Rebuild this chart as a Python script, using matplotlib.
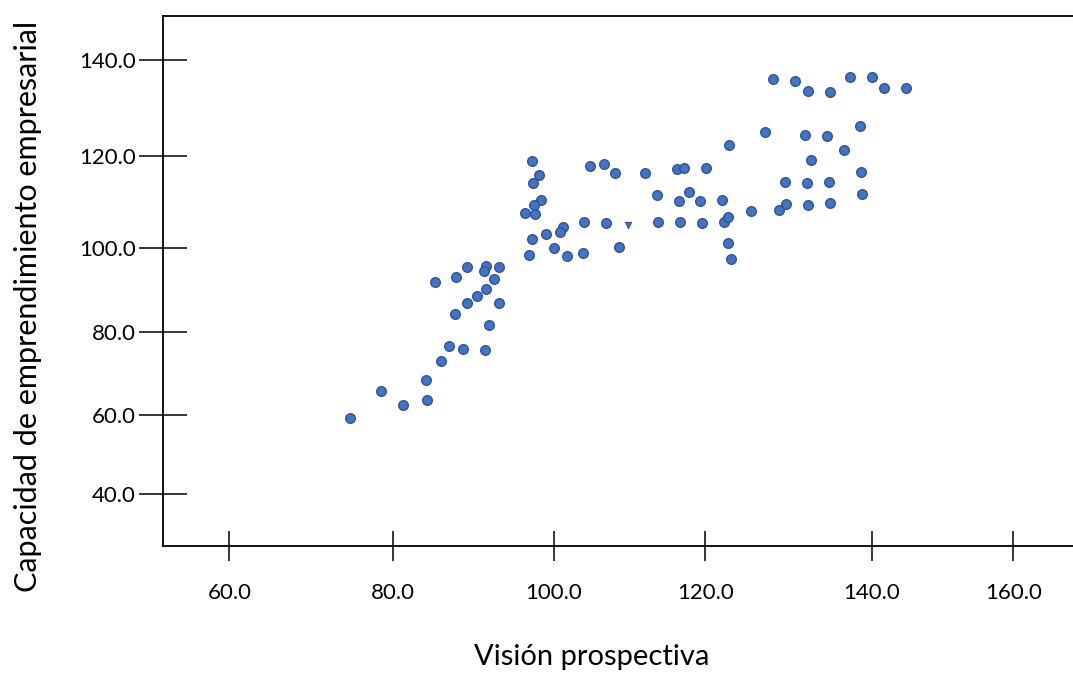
import numpy as np
import matplotlib
matplotlib.use('Agg')
import matplotlib.pyplot as plt

plt.rcParams['font.family'] = ['Lato', 'DejaVu Sans']

# Visión prospectiva (x) vs Capacidad de emprendimiento empresarial (y)
vision = [74.7, 78.5, 81.2, 84.2, 84.1, 86.0, 87.0, 88.7, 91.4, 91.9,
          87.7, 89.2, 93.2, 90.4, 91.6, 92.5, 85.2, 87.8, 89.2, 91.6,
          91.3, 93.2, 96.9, 97.3, 97.3, 98.1, 97.4, 98.4, 97.5, 96.4,
          97.6, 104.0, 106.9, 101.2, 100.8, 99.0, 100.0, 101.7, 103.8, 108.6,
          104.8, 106.6, 108.1, 112.0, 113.6, 116.5, 117.8, 119.3, 122.0, 113.7,
          116.7, 119.6, 122.2, 122.7, 122.7, 123.1, 116.3, 117.2, 120.1, 122.8,
          125.5, 128.9, 128.1, 130.8, 132.3, 135.0, 137.4, 140.0, 141.7, 144.8,
          127.2, 132.0, 134.6, 138.6, 136.7, 132.7, 138.7, 129.6, 132.2, 134.9,
          138.8, 129.7, 132.3, 135.0]
capacidad = [59.3, 65.8, 62.4, 63.6, 68.4, 73.0, 76.6, 75.8, 75.6, 81.6,
             84.2, 86.9, 86.9, 88.6, 90.2, 92.6, 91.9, 93.1, 95.5, 95.8,
             94.6, 95.5, 98.4, 102.0, 118.9, 115.9, 114.1, 110.5, 109.4, 107.6,
             107.4, 105.7, 105.5, 104.6, 103.5, 103.1, 100.1, 98.2, 98.9, 100.3,
             117.8, 118.3, 116.3, 116.3, 111.5, 110.2, 112.2, 110.2, 110.5, 105.7,
             105.7, 105.5, 105.7, 106.8, 101.1, 97.4, 117.2, 117.4, 117.4, 122.3,
             108.1, 108.3, 136.0, 135.6, 133.5, 133.3, 136.5, 136.5, 134.2, 134.2,
             125.0, 124.4, 124.2, 126.3, 121.3, 119.1, 116.5, 114.4, 114.1, 114.4,
             111.8, 109.6, 109.4, 109.8]
# one point drawn as a small triangle in the original
odd_x = [109.8]
odd_y = [105.0]

x_ticks = [60, 80, 100, 120, 140, 160]
y_ticks = [40, 60, 80, 100, 120, 140]

# the original axes are not evenly spaced: tick positions in pixels
x_tick_px = [229.3, 393, 554, 705.3, 871.7, 1013.3]
y_tick_px = [-494, -415, -331.7, -248.3, -156, -60]


def piecewise(k_in, k_out):
    k_in = np.asarray(k_in, float)
    k_out = np.asarray(k_out, float)
    s_lo = (k_out[1] - k_out[0]) / (k_in[1] - k_in[0])
    s_hi = (k_out[-1] - k_out[-2]) / (k_in[-1] - k_in[-2])

    def f(v):
        v = np.asarray(v, float)
        out = np.interp(v, k_in, k_out)
        out = np.where(v < k_in[0], k_out[0] + (v - k_in[0]) * s_lo, out)
        out = np.where(v > k_in[-1], k_out[-1] + (v - k_in[-1]) * s_hi, out)
        return out
    return f


fig = plt.figure(figsize=(10.73, 6.78), dpi=100)
ax = fig.add_axes([162.7 / 1073, 1 - 545.7 / 678, 1 - 162.7 / 1073, (545.7 - 15.7) / 678])

ax.set_xscale('function', functions=(piecewise(x_ticks, x_tick_px), piecewise(x_tick_px, x_ticks)))
ax.set_yscale('function', functions=(piecewise(y_ticks, y_tick_px), piecewise(y_tick_px, y_ticks)))
ax.set_xlim(piecewise(x_tick_px, x_ticks)([162.7, 1073]))
ax.set_ylim(piecewise(y_tick_px, y_ticks)([-545.7, -15.7]))

ax.scatter(vision, capacidad, s=48, color='#4472C4', edgecolors='#2F5597', linewidths=1.0, zorder=3)
ax.scatter(odd_x, odd_y, s=20, marker='v', color='#4472C4', edgecolors='#2F5597', linewidths=0.8, zorder=3)

ax.set_xticks(x_ticks)
ax.set_yticks(y_ticks)
ax.set_xticklabels([f'{t:.1f}' for t in x_ticks])
ax.set_yticklabels([f'{t:.1f}' for t in y_ticks])
ax.minorticks_off()
ax.tick_params(axis='x', direction='inout', length=22, width=1.1, pad=16, labelsize=16)
ax.tick_params(axis='y', direction='inout', length=35, width=1.1, pad=2, labelsize=16)

for side in ['left', 'bottom', 'top']:
    ax.spines[side].set_linewidth(1.3)
ax.spines['right'].set_visible(False)

fig.text(592 / 1073, 1 - 665 / 678, 'Visión prospectiva', ha='center', va='baseline', fontsize=21)
fig.text(28 / 1073, 1 - 306 / 678, 'Capacidad de emprendimiento empresarial', rotation=90,
         ha='center', va='center', fontsize=22)

fig.savefig('out.png', dpi=100)
